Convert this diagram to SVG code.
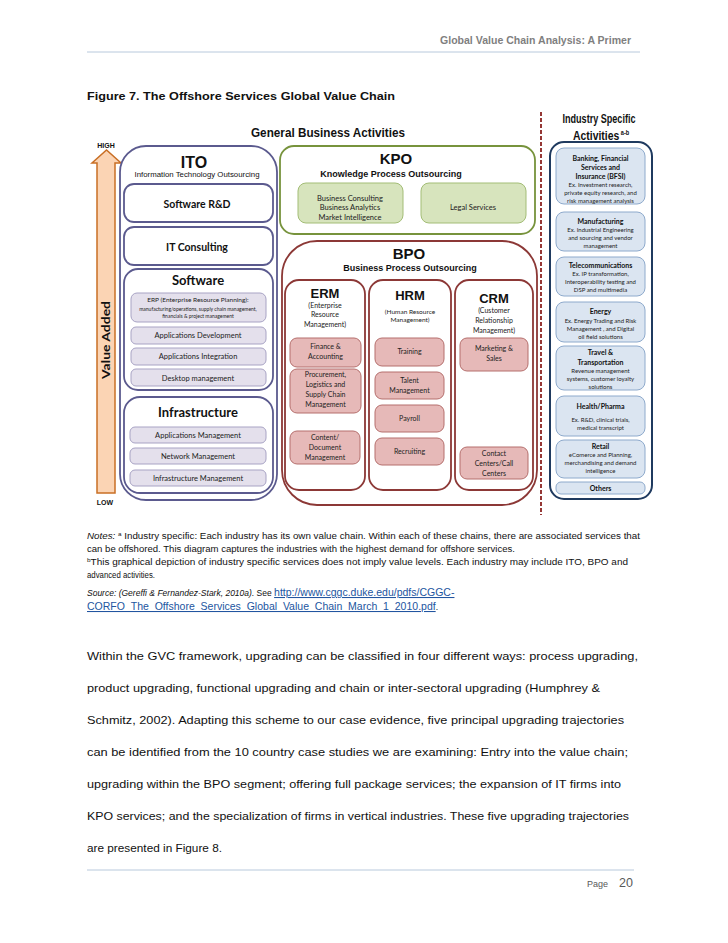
<svg xmlns="http://www.w3.org/2000/svg" width="728" height="943" viewBox="0 0 728 943">
<style>
.pg{font-family:"Liberation Sans",Arial,sans-serif}
.cal{font-family:Lato,"Open Sans",sans-serif}
.ar{font-family:"Liberation Sans",Arial,sans-serif}
.b{font-weight:bold}
.m{text-anchor:middle}
.ito{fill:#fff;stroke:#5b5a8e;stroke-width:1.8}
.itoi{fill:#e4e0ec;stroke:#a8a3c4;stroke-width:1}
.kpo{fill:#fff;stroke:#77933c;stroke-width:1.8}
.kpoi{fill:#d7e4bd;stroke:#a3bd76;stroke-width:1}
.bpo{fill:#fff;stroke:#8c3836;stroke-width:1.8}
.bpoi{fill:#e6b9b8;stroke:#b56f6d;stroke-width:1}
.ind{fill:#fff;stroke:#1f3a5f;stroke-width:2}
.indi{fill:#dbe5f1;stroke:#8eaacc;stroke-width:1}
.t7{font-size:7px}
.t6{font-size:6px}
.body{font-family:"Liberation Sans",Arial,sans-serif;font-size:11.5px;fill:#111}
.note{font-family:"Liberation Sans",Arial,sans-serif;font-size:8.5px;fill:#111}
</style>

<!-- page header -->
<g id="header">
<text class="pg b" x="631" y="44" font-size="10" fill="#7f7f7f" text-anchor="end" textLength="191" lengthAdjust="spacingAndGlyphs">Global Value Chain Analysis: A Primer</text>
<line x1="87" y1="52" x2="640" y2="52" stroke="#b8c9dc" stroke-width="1"/>
</g>

<text class="pg b" x="87" y="100" font-size="11.5" fill="#111" textLength="308" lengthAdjust="spacingAndGlyphs">Figure 7.  The Offshore Services Global Value Chain</text>

<text class="ar b m" x="328" y="137" font-size="13" fill="#111" textLength="154" lengthAdjust="spacingAndGlyphs">General Business Activities</text>
<text class="ar b m" x="599" y="123" font-size="13" fill="#111" textLength="73" lengthAdjust="spacingAndGlyphs">Industry Specific</text>
<text class="ar b" transform="translate(573,140) scale(0.8,1)" font-size="13" fill="#111">Activities<tspan font-size="7" dy="-5"> a-b</tspan></text>

<!-- value axis -->
<g id="axis">
<text class="ar b m" x="106" y="148" font-size="7" fill="#111">HIGH</text>
<path d="M97,493 L97,163 L92,163 L106.5,150 L121,163 L115,163 L115,493 Z" fill="#fbd4b4" stroke="#c96f25" stroke-width="1.5"/>
<text class="cal b m" transform="translate(110,340) rotate(-90)" font-size="12" fill="#111" textLength="78" lengthAdjust="spacingAndGlyphs">Value Added</text>
<text class="ar b m" x="105" y="505" font-size="7" fill="#111">LOW</text>
</g>

<!-- dashed divider -->
<g id="connectors">
<line x1="541" y1="112" x2="541" y2="515" stroke="#953735" stroke-width="2" stroke-dasharray="4,2"/>
</g>

<!-- ITO -->
<g id="ito">
<rect class="ito" x="120" y="146" width="157" height="354" rx="26"/>
<text class="ar b m" x="194" y="168" font-size="16" fill="#111">ITO</text>
<text class="ar m" x="197" y="177" font-size="7" fill="#111" textLength="125" lengthAdjust="spacingAndGlyphs">Information Technology Outsourcing</text>
</g>
<g id="software-rd">
<rect class="ito" x="124" y="184" width="149" height="38" rx="10"/>
<text class="cal b m" x="197" y="208" font-size="10.5" fill="#111">Software R&amp;D</text>
</g>
<g id="it-consulting">
<rect class="ito" x="124" y="227" width="149" height="38" rx="10"/>
<text class="cal b m" x="197" y="251" font-size="10.5" fill="#111">IT Consulting</text>
</g>
<g id="software">
<rect class="ito" x="124" y="269" width="149" height="121" rx="14"/>
<text class="cal b m" x="198" y="285" font-size="13" fill="#111">Software</text>
<rect class="itoi" x="131" y="293" width="135" height="29" rx="6"/>
<text class="cal m" x="198" y="302" font-size="6.5" fill="#222">ERP (Enterprise Resource Planning):</text>
<text class="cal m" x="198" y="311" font-size="5" fill="#222">manufacturing/operations, supply chain management,</text>
<text class="cal m" x="198" y="318" font-size="5" fill="#222">financials &amp; project management</text>
<rect class="itoi" x="131" y="327" width="135" height="17" rx="5"/>
<text class="cal m" x="198" y="338" font-size="7.5" fill="#222">Applications Development</text>
<rect class="itoi" x="131" y="348" width="135" height="17" rx="5"/>
<text class="cal m" x="198" y="359" font-size="7.5" fill="#222">Applications Integration</text>
<rect class="itoi" x="131" y="369" width="135" height="17" rx="5"/>
<text class="cal m" x="198" y="381" font-size="7.5" fill="#222">Desktop management</text>
</g>
<g id="infrastructure">
<rect class="ito" x="124" y="397" width="149" height="96" rx="16"/>
<text class="cal b m" x="198" y="417" font-size="13" fill="#111">Infrastructure</text>
<rect class="itoi" x="130" y="427" width="136" height="16" rx="5"/>
<text class="cal m" x="198" y="438" font-size="7.5" fill="#222">Applications Management</text>
<rect class="itoi" x="130" y="448" width="136" height="16" rx="5"/>
<text class="cal m" x="198" y="459" font-size="7.5" fill="#222">Network Management</text>
<rect class="itoi" x="130" y="470" width="136" height="16" rx="5"/>
<text class="cal m" x="198" y="481" font-size="7.5" fill="#222">Infrastructure Management</text>
</g>

<!-- KPO -->
<g id="kpo">
<rect class="kpo" x="280" y="146" width="255" height="88" rx="14"/>
<text class="ar b m" x="396" y="164" font-size="15" fill="#111">KPO</text>
<text class="ar b m" x="391" y="177" font-size="9" fill="#111">Knowledge Process Outsourcing</text>
</g>
<g id="kpo-business">
<rect class="kpoi" x="298" y="183" width="105" height="40" rx="8"/>
<text class="cal m" x="350" y="201" font-size="7.5" fill="#222">Business Consulting</text>
<text class="cal m" x="350" y="210" font-size="7.5" fill="#222">Business Analytics</text>
<text class="cal m" x="350" y="220" font-size="7.5" fill="#222">Market Intelligence</text>
</g>
<g id="kpo-legal">
<rect class="kpoi" x="421" y="183" width="105" height="40" rx="8"/>
<text class="cal m" x="473" y="210" font-size="7.5" fill="#222">Legal Services</text>
</g>

<!-- BPO -->
<g id="bpo">
<rect class="bpo" x="282" y="241" width="255" height="264" rx="35"/>
<text class="ar b m" x="409" y="259" font-size="15" fill="#111">BPO</text>
<text class="ar b m" x="410" y="271" font-size="9" fill="#111">Business Process Outsourcing</text>
</g>
<g id="erm">
<rect class="bpo" x="285" y="280" width="80" height="210" rx="14"/>
<text class="ar b m" x="325" y="298" font-size="13" fill="#111">ERM</text>
<text class="cal m t7" x="325" y="308" fill="#222">(Enterprise</text>
<text class="cal m t7" x="325" y="317" fill="#222">Resource</text>
<text class="cal m t7" x="325" y="327" fill="#222">Management)</text>
<rect class="bpoi" x="290" y="338" width="71" height="29" rx="7"/>
<text class="cal m t7" x="325.5" y="349" fill="#222">Finance &amp;</text>
<text class="cal m t7" x="325.5" y="359" fill="#222">Accounting</text>
<rect class="bpoi" x="290" y="369" width="71" height="44" rx="7"/>
<text class="cal m t7" x="325.5" y="377" fill="#222">Procurement,</text>
<text class="cal m t7" x="325.5" y="387" fill="#222">Logistics and</text>
<text class="cal m t7" x="325.5" y="397" fill="#222">Supply Chain</text>
<text class="cal m t7" x="325.5" y="407" fill="#222">Management</text>
<rect class="bpoi" x="290" y="431" width="70" height="33" rx="7"/>
<text class="cal m t7" x="325" y="440" fill="#222">Content/</text>
<text class="cal m t7" x="325" y="450" fill="#222">Document</text>
<text class="cal m t7" x="325" y="460" fill="#222">Management</text>
</g>
<g id="hrm">
<rect class="bpo" x="369" y="280" width="82" height="210" rx="14"/>
<text class="ar b m" x="410" y="300" font-size="13" fill="#111">HRM</text>
<text class="cal m" x="410" y="314" font-size="6.5" fill="#222">(Human Resource</text>
<text class="cal m" x="410" y="322" font-size="6.5" fill="#222">Management)</text>
<rect class="bpoi" x="375" y="338" width="69" height="28" rx="7"/>
<text class="cal m t7" x="409.5" y="354" fill="#222">Training</text>
<rect class="bpoi" x="375" y="372" width="69" height="27" rx="7"/>
<text class="cal m t7" x="409.5" y="383" fill="#222">Talent</text>
<text class="cal m t7" x="409.5" y="393" fill="#222">Management</text>
<rect class="bpoi" x="375" y="405" width="69" height="27" rx="7"/>
<text class="cal m t7" x="409.5" y="421" fill="#222">Payroll</text>
<rect class="bpoi" x="375" y="438" width="69" height="27" rx="7"/>
<text class="cal m t7" x="409.5" y="454" fill="#222">Recruiting</text>
</g>
<g id="crm">
<rect class="bpo" x="455" y="280" width="78" height="210" rx="14"/>
<text class="ar b m" x="494" y="303" font-size="13" fill="#111">CRM</text>
<text class="cal m t7" x="494" y="313" fill="#222">(Customer</text>
<text class="cal m t7" x="494" y="323" fill="#222">Relationship</text>
<text class="cal m t7" x="494" y="333" fill="#222">Management)</text>
<rect class="bpoi" x="460" y="338" width="68" height="33" rx="7"/>
<text class="cal m t7" x="494" y="351" fill="#222">Marketing &amp;</text>
<text class="cal m t7" x="494" y="361" fill="#222">Sales</text>
<rect class="bpoi" x="460" y="447" width="68" height="32" rx="7"/>
<text class="cal m t7" x="494" y="456" fill="#222">Contact</text>
<text class="cal m t7" x="494" y="466" fill="#222">Centers/Call</text>
<text class="cal m t7" x="494" y="476" fill="#222">Centers</text>
</g>

<!-- Industry specific -->
<g id="industry">
<rect class="ind" x="550" y="142" width="102" height="357" rx="14"/>
</g>
<g id="bfsi">
<rect class="indi" x="556" y="148" width="89" height="56" rx="8"/>
<text class="cal b m t7" x="600.5" y="161" fill="#111">Banking,  Financial</text>
<text class="cal b m t7" x="600.5" y="170" fill="#111">Services and</text>
<text class="cal b m t7" x="600.5" y="179" fill="#111">Insurance (BFSI)</text>
<text class="cal m t6" x="600.5" y="187" fill="#222">Ex. Investment research,</text>
<text class="cal m t6" x="600.5" y="195" fill="#222">private equity research, and</text>
<text class="cal m t6" x="600.5" y="203" fill="#222">risk management analysis</text>
</g>
<g id="manufacturing">
<rect class="indi" x="556" y="212" width="89" height="39" rx="8"/>
<text class="cal b m t7" x="600.5" y="224" fill="#111">Manufacturing</text>
<text class="cal m t6" x="600.5" y="232" fill="#222">Ex. Industrial Engineering</text>
<text class="cal m t6" x="600.5" y="240" fill="#222">and sourcing and vendor</text>
<text class="cal m t6" x="600.5" y="248" fill="#222">management</text>
</g>
<g id="telecom">
<rect class="indi" x="556" y="257" width="89" height="39" rx="8"/>
<text class="cal b m t7" x="600.5" y="268" fill="#111">Telecommunications</text>
<text class="cal m t6" x="600.5" y="276" fill="#222">Ex. IP transformation,</text>
<text class="cal m t6" x="600.5" y="284" fill="#222">Interoperability testing and</text>
<text class="cal m t6" x="600.5" y="292" fill="#222">DSP and multimedia</text>
</g>
<g id="energy">
<rect class="indi" x="556" y="302" width="89" height="40" rx="8"/>
<text class="cal b m t7" x="600.5" y="314" fill="#111">Energy</text>
<text class="cal m t6" x="600.5" y="323" fill="#222">Ex. Energy Trading and Risk</text>
<text class="cal m t6" x="600.5" y="331" fill="#222">Management , and Digital</text>
<text class="cal m t6" x="600.5" y="339" fill="#222">oil field solutions</text>
</g>
<g id="travel">
<rect class="indi" x="556" y="346" width="89" height="44" rx="8"/>
<text class="cal b m t7" x="600.5" y="355" fill="#111">Travel &amp;</text>
<text class="cal b m t7" x="600.5" y="365" fill="#111">Transportation</text>
<text class="cal m t6" x="600.5" y="373" fill="#222">Revenue management</text>
<text class="cal m t6" x="600.5" y="381" fill="#222">systems, customer loyalty</text>
<text class="cal m t6" x="600.5" y="389" fill="#222">solutions</text>
</g>
<g id="health">
<rect class="indi" x="556" y="396" width="89" height="40" rx="8"/>
<text class="cal b m t7" x="600.5" y="409" fill="#111">Health/Pharma</text>
<text class="cal m t6" x="600.5" y="422" fill="#222">Ex. R&amp;D, clinical trials,</text>
<text class="cal m t6" x="600.5" y="430" fill="#222">medical transcript</text>
</g>
<g id="retail">
<rect class="indi" x="556" y="440" width="89" height="38" rx="8"/>
<text class="cal b m t7" x="600.5" y="449" fill="#111">Retail</text>
<text class="cal m t6" x="600.5" y="457" fill="#222">eComerce and Planning,</text>
<text class="cal m t6" x="600.5" y="465" fill="#222">merchandising and demand</text>
<text class="cal m t6" x="600.5" y="473" fill="#222">intelligence</text>
</g>
<g id="others">
<rect class="indi" x="556" y="482" width="89" height="12" rx="5"/>
<text class="cal b m t7" x="600.5" y="491" fill="#111">Others</text>
</g>

<!-- notes -->
<g id="notes">
<text class="note" x="87" y="539" textLength="553" lengthAdjust="spacingAndGlyphs"><tspan font-style="italic">Notes:</tspan> <tspan font-size="5.5" dy="-3">a</tspan><tspan dy="3"> Industry specific: Each industry has its own value chain. Within each of these chains, there are associated services that</tspan></text>
<text class="note" x="87" y="552" textLength="428" lengthAdjust="spacingAndGlyphs">can be offshored. This diagram captures the industries with the highest demand for offshore services.</text>
<text class="note" x="87" y="565" textLength="541" lengthAdjust="spacingAndGlyphs"><tspan font-size="5.5" dy="-3">b</tspan><tspan dy="3">This graphical depiction of industry specific services does not imply value levels. Each industry may include ITO, BPO and</tspan></text>
<text class="note" x="87" y="578" textLength="68" lengthAdjust="spacingAndGlyphs">advanced activities.</text>
<text class="note" x="87" y="596"><tspan font-style="italic">Source: (Gereffi &amp; Fernandez-Stark, 2010a).</tspan> See <tspan fill="#2255a0" font-size="10.5" text-decoration="underline">http://www.cggc.duke.edu/pdfs/CGGC-</tspan></text>
<text class="note" x="87" y="610"><tspan fill="#2255a0" font-size="10.5" text-decoration="underline">CORFO_The_Offshore_Services_Global_Value_Chain_March_1_2010.pdf</tspan>.</text>
</g>

<!-- body -->
<g id="body">
<text class="body" x="87" y="660" textLength="551" lengthAdjust="spacingAndGlyphs">Within the GVC framework, upgrading can be classified in four different ways: process upgrading,</text>
<text class="body" x="87" y="692" textLength="513" lengthAdjust="spacingAndGlyphs">product upgrading, functional upgrading and chain or inter-sectoral upgrading (Humphrey &amp;</text>
<text class="body" x="87" y="724" textLength="537" lengthAdjust="spacingAndGlyphs">Schmitz, 2002).  Adapting this scheme to our case evidence, five principal upgrading trajectories</text>
<text class="body" x="87" y="756" textLength="541" lengthAdjust="spacingAndGlyphs">can be identified from the 10 country case studies we are examining: Entry into the value chain;</text>
<text class="body" x="87" y="788" textLength="534" lengthAdjust="spacingAndGlyphs">upgrading within the BPO segment; offering full package services; the expansion of IT firms into</text>
<text class="body" x="87" y="820" textLength="542" lengthAdjust="spacingAndGlyphs">KPO services; and the specialization of firms in vertical industries.  These five upgrading trajectories</text>
<text class="body" x="87" y="852" textLength="135" lengthAdjust="spacingAndGlyphs">are presented in Figure 8.</text>
</g>

<!-- footer -->
<g id="footer">
<line x1="87" y1="870" x2="634" y2="870" stroke="#b8c9dc" stroke-width="1"/>
<text class="pg" x="587" y="887" font-size="9" fill="#595959">Page</text>
<text class="pg" x="633" y="887" font-size="12.5" fill="#595959" text-anchor="end">20</text>
</g>
</svg>
